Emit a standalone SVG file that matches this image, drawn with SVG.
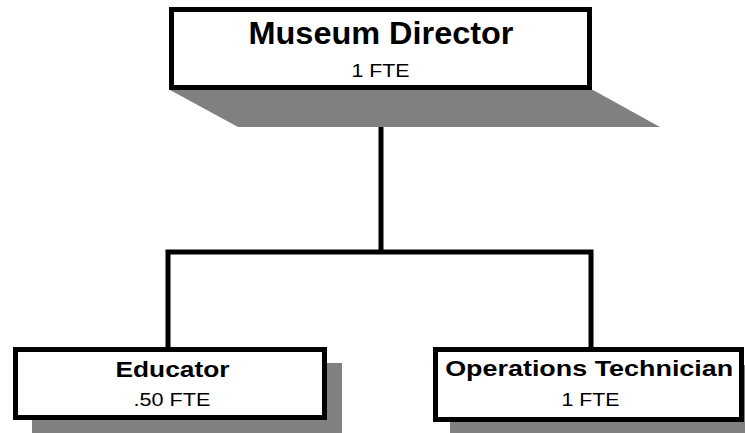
<svg xmlns="http://www.w3.org/2000/svg" width="745" height="433" viewBox="0 0 745 433">
<style>
.box{fill:#fff;stroke:#000;stroke-width:5}
.shadow{fill:#808080;stroke:none}
.conn{fill:none;stroke:#000;stroke-width:5;stroke-linejoin:miter}
.title{font-family:"Liberation Sans",Arial,sans-serif;font-weight:bold;fill:#000;text-anchor:middle}
.sub{font-family:"Liberation Sans",Arial,sans-serif;fill:#000;text-anchor:middle}
</style>
<rect width="745" height="433" fill="#fff"/>
<g id="connectors">
<line class="conn" x1="381" y1="127" x2="381" y2="252"/>
<polyline class="conn" points="168,347 168,252 591,252 591,347"/>
</g>
<g id="museum-director">
<polygon class="shadow" points="170,90 593,90 660,127 238,127"/>
<rect class="box" x="171.5" y="9.5" width="418" height="78"/>
<text class="title" x="381" y="44" font-size="31.5" textLength="265" lengthAdjust="spacingAndGlyphs">Museum Director</text>
<text class="sub" x="380.5" y="76.7" font-size="18.5" textLength="58" lengthAdjust="spacingAndGlyphs">1 FTE</text>
</g>
<g id="educator">
<rect class="shadow" x="32" y="363" width="310" height="70"/>
<rect class="box" x="15.5" y="349.5" width="309" height="68"/>
<text class="title" x="172.5" y="376.7" font-size="22.5" textLength="114" lengthAdjust="spacingAndGlyphs">Educator</text>
<text class="sub" x="172" y="405.7" font-size="18.5" textLength="77" lengthAdjust="spacingAndGlyphs">.50 FTE</text>
</g>
<g id="operations-technician">
<rect class="shadow" x="450" y="365" width="295" height="68"/>
<rect class="box" x="435.5" y="349.5" width="306" height="70"/>
<text class="title" x="589.2" y="376" font-size="22.5" textLength="288" lengthAdjust="spacingAndGlyphs">Operations Technician</text>
<text class="sub" x="590.5" y="405.7" font-size="18.5" textLength="58" lengthAdjust="spacingAndGlyphs">1 FTE</text>
</g>
</svg>
